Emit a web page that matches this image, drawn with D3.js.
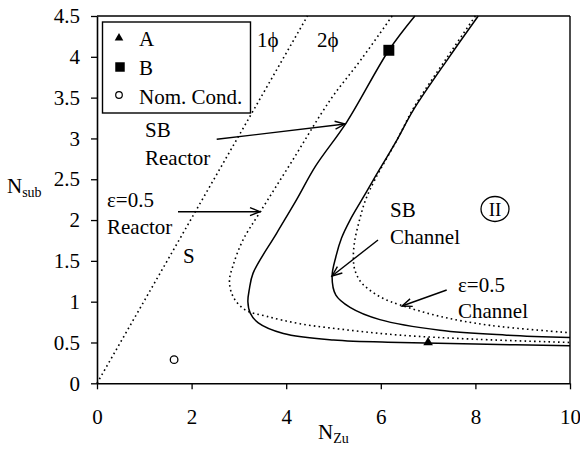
<!DOCTYPE html>
<html>
<head>
<meta charset="utf-8">
<script src="https://cdn.jsdelivr.net/npm/d3@7"></script>
<style>
  html, body { margin: 0; padding: 0; background: #fff; }
  svg { display: block; font-family: "Liberation Serif", "Times New Roman", serif; }
</style>
</head>
<body>
<svg id="chart" width="580" height="452"></svg>
<script>
// Stability map, N_sub versus N_Zu
const xTicks = [0, 2, 4, 6, 8, 10];
const yTicks = [0, 0.5, 1, 1.5, 2, 2.5, 3, 3.5, 4, 4.5];
const yTickLabels = ["0", "0.5", "1", "1.5", "2", "2.5", "3", "3.5", "4", "4.5"];

// Saturation line (single-phase / two-phase boundary)
const onePhaseLine = [[0, 0], [4.45, 4.5]];

// Stability boundary, reactor
const sbReactor = [[6.72, 4.5], [6.17, 4.08], [5.28, 3.2], [4.62, 2.66], [4.22, 2.25], [3.8, 1.84],
  [3.3, 1.35], [3.22, 1.15], [3.19, 1.0], [3.24, 0.86], [3.41, 0.74], [3.94, 0.61], [5.0, 0.53],
  [6.41, 0.5], [8.0, 0.48], [10, 0.46]];

// Void fraction 0.5 line, reactor
const epsReactor = [[6.24, 4.5], [5.6, 3.98], [4.93, 3.47], [4.1, 2.7], [3.45, 2.1], [3.09, 1.76],
  [2.88, 1.45], [2.8, 1.25], [2.88, 1.06], [3.13, 0.9], [3.59, 0.82], [4.29, 0.73], [5.35, 0.65],
  [6.41, 0.59], [8.0, 0.54], [10, 0.5]];

// Stability boundary, channel
const sbChannel = [[8.06, 4.5], [7.45, 4.0], [6.69, 3.35], [6.34, 2.98], [5.84, 2.49], [5.6, 2.25],
  [5.35, 2.0], [5.17, 1.78], [5.05, 1.55], [4.97, 1.31], [5.05, 1.08], [5.35, 0.93], [5.98, 0.78],
  [7.25, 0.65], [8.66, 0.59], [10, 0.56]];

// Void fraction 0.5 line, channel
const epsChannel = [[8.0, 4.5], [7.41, 4.0], [6.7, 3.38], [6.36, 3.0], [5.88, 2.5], [5.68, 2.25],
  [5.55, 2.0], [5.45, 1.75], [5.42, 1.55], [5.45, 1.39], [5.58, 1.24], [5.77, 1.14], [6.05, 1.04],
  [6.41, 0.96], [7.25, 0.82], [8.31, 0.71], [10, 0.62]];

// Operating points
const pointA = [7.0, 0.5];
const pointB = [6.17, 4.08];
const nominal = [1.63, 0.29];

const svg = d3.select("#chart");
const x = d3.scaleLinear().domain([0, 10]).range([97, 570]);
const y = d3.scaleLinear().domain([0, 4.5]).range([383.3, 16]);
const FS = 21;

const defs = svg.append("defs");
defs.append("marker")
  .attr("id", "arrow")
  .attr("viewBox", "-11 -6 13 12")
  .attr("refX", 0).attr("refY", 0)
  .attr("markerWidth", 13).attr("markerHeight", 12)
  .attr("markerUnits", "userSpaceOnUse")
  .attr("orient", "auto")
  .append("path")
  .attr("d", "M-10,-4 L0,0 L-10,4")
  .attr("fill", "none").attr("stroke", "#000").attr("stroke-width", 1.4);

// Axes
const xAxis = d3.axisBottom(x).tickValues(xTicks).tickSize(6).tickSizeOuter(0).tickPadding(20)
  .tickFormat(d3.format("d"));
const yAxis = d3.axisLeft(y).tickValues(yTicks).tickSize(6).tickSizeOuter(0).tickPadding(11)
  .tickFormat((d, i) => yTickLabels[i]);

const gx = svg.append("g").attr("transform", `translate(0,${y(0)})`).call(xAxis);
const gy = svg.append("g").attr("transform", `translate(${x(0)},0)`).call(yAxis);
[gx, gy].forEach(g => {
  g.selectAll("text").attr("font-size", FS).attr("font-family", "Liberation Serif, serif").attr("fill", "#000");
  g.selectAll("line").attr("stroke", "#000").attr("stroke-width", 1.3);
  g.select(".domain").attr("stroke", "#000").attr("stroke-width", 1.6);
});

// Frame: top and right edges
svg.append("line").attr("x1", x(0)).attr("x2", x(10)).attr("y1", y(4.5)).attr("y2", y(4.5))
  .attr("stroke", "#000").attr("stroke-width", 1.4);
svg.append("line").attr("x1", x(10)).attr("x2", x(10)).attr("y1", y(4.5)).attr("y2", y(0))
  .attr("stroke", "#000").attr("stroke-width", 1.4);

// Axis titles with subscripts
const yt = svg.append("text").attr("x", 7).attr("y", 193).attr("font-size", FS);
yt.append("tspan").text("N");
yt.append("tspan").attr("font-size", 14).attr("dy", 4).text("sub");
const xt = svg.append("text").attr("x", 318).attr("y", 439).attr("font-size", FS);
xt.append("tspan").text("N");
xt.append("tspan").attr("font-size", 14).attr("dy", 4).text("Zu");

// Curves
const line = d3.line().x(d => x(d[0])).y(d => y(d[1])).curve(d3.curveCatmullRom.alpha(0.5));
const plot = svg.append("g");
const dotted = { "stroke-dasharray": "1.6,3.2", "stroke-width": 1.6 };
const solid = { "stroke-width": 1.5 };

function drawCurve(data, style) {
  const p = plot.append("path").datum(data).attr("d", line)
    .attr("fill", "none").attr("stroke", "#000");
  Object.entries(style).forEach(([k, v]) => p.attr(k, v));
}
drawCurve(onePhaseLine, dotted);
drawCurve(epsReactor, dotted);
drawCurve(epsChannel, dotted);
drawCurve(sbReactor, solid);
drawCurve(sbChannel, solid);

// Markers
const tri = d3.symbol().type(d3.symbolTriangle).size(40);
const sq = d3.symbol().type(d3.symbolSquare).size(120);
plot.append("path").attr("d", tri).attr("transform", `translate(${x(pointA[0])},${y(pointA[1])})`).attr("fill", "#000");
plot.append("path").attr("d", sq).attr("transform", `translate(${x(pointB[0])},${y(pointB[1])})`).attr("fill", "#000");
plot.append("circle").attr("cx", x(nominal[0])).attr("cy", y(nominal[1])).attr("r", 3.8)
  .attr("fill", "#fff").attr("stroke", "#000").attr("stroke-width", 1.3);

// Legend
const lg = svg.append("g");
lg.append("rect").attr("x", 102.5).attr("y", 22).attr("width", 148).attr("height", 91)
  .attr("fill", "#fff").attr("stroke", "#000").attr("stroke-width", 1.4);
const legendItems = [
  { label: "A", kind: "tri", cy: 38 },
  { label: "B", kind: "sq", cy: 67 },
  { label: "Nom. Cond.", kind: "circ", cy: 96 }
];
legendItems.forEach(it => {
  if (it.kind === "tri") lg.append("path").attr("d", d3.symbol().type(d3.symbolTriangle).size(32)).attr("transform", `translate(119,${it.cy})`).attr("fill", "#000");
  if (it.kind === "sq") lg.append("path").attr("d", d3.symbol().type(d3.symbolSquare).size(90)).attr("transform", `translate(120,${it.cy})`).attr("fill", "#000");
  if (it.kind === "circ") lg.append("circle").attr("cx", 119).attr("cy", it.cy - 1).attr("r", 3.3).attr("fill", "#fff").attr("stroke", "#000").attr("stroke-width", 1.2);
  lg.append("text").attr("x", 139).attr("y", it.cy + 7.5).attr("font-size", FS).text(it.label);
});

// Region labels and annotations
const labels = [
  { t: "1\u03d5", px: 257, py: 47 },
  { t: "2\u03d5", px: 317, py: 47 },
  { t: "SB", px: 145, py: 137 },
  { t: "Reactor", px: 145, py: 165 },
  { t: "\u03b5=0.5", px: 107, py: 207 },
  { t: "Reactor", px: 107, py: 234 },
  { t: "S", px: 183, py: 263 },
  { t: "SB", px: 390, py: 217 },
  { t: "Channel", px: 390, py: 244 },
  { t: "\u03b5=0.5", px: 458, py: 292 },
  { t: "Channel", px: 458, py: 318 }
];
labels.forEach(l => svg.append("text").attr("x", l.px).attr("y", l.py).attr("font-size", FS).text(l.t));

// Circled region II
svg.append("ellipse").attr("cx", 495).attr("cy", 209).attr("rx", 14).attr("ry", 12.5)
  .attr("fill", "none").attr("stroke", "#000").attr("stroke-width", 1.3);
svg.append("text").attr("x", 495).attr("y", 216).attr("font-size", 19).attr("text-anchor", "middle").text("II");

// Arrows pointing at the curves
const arrows = [
  [216.7, 139.3, 345, 124],
  [178, 211.7, 260, 211.7],
  [378, 240, 332, 276],
  [446.7, 290, 402, 306]
];
arrows.forEach(a => svg.append("line")
  .attr("x1", a[0]).attr("y1", a[1]).attr("x2", a[2]).attr("y2", a[3])
  .attr("stroke", "#000").attr("stroke-width", 1.4).attr("marker-end", "url(#arrow)"));
</script>
</body>
</html>
